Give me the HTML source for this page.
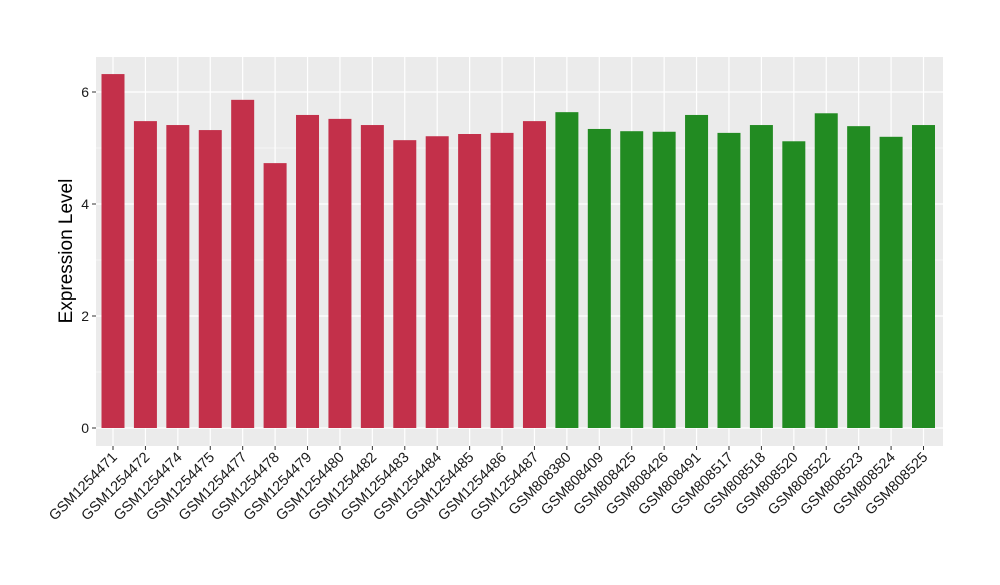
<!DOCTYPE html>
<html><head><meta charset="utf-8"><style>
body{margin:0;background:#fff;}
svg text{font-family:"Liberation Sans",Arial,sans-serif;}
</style></head><body>
<svg width="1000" height="580" xmlns="http://www.w3.org/2000/svg">
<rect x="96" y="57" width="847" height="389" fill="#ebebeb"/>
<g id="grid"></g><g id="bars"></g><g id="xaxis"></g><g id="yaxis"></g>
<text x="72" y="251" font-size="19" text-anchor="middle" transform="rotate(-90 72 251)">Expression Level</text>
</svg>
<script>
const categories=["GSM1254471","GSM1254472","GSM1254474","GSM1254475","GSM1254477","GSM1254478","GSM1254479","GSM1254480","GSM1254482","GSM1254483","GSM1254484","GSM1254485","GSM1254486","GSM1254487","GSM808380","GSM808409","GSM808425","GSM808426","GSM808491","GSM808517","GSM808518","GSM808520","GSM808522","GSM808523","GSM808524","GSM808525"];
const values=[6.32,5.48,5.41,5.32,5.86,4.73,5.59,5.52,5.41,5.14,5.21,5.25,5.27,5.48,5.64,5.34,5.30,5.29,5.59,5.27,5.41,5.12,5.62,5.39,5.20,5.41];
const groups=["a","a","a","a","a","a","a","a","a","a","a","a","a","a","b","b","b","b","b","b","b","b","b","b","b","b"];
const yTicks=[0,2,4,6];
const ns="http://www.w3.org/2000/svg";
const L=96,W=847,T=57,H=389,y0=428,ppu=56;
const step=32.42;
const x=i=>113+step*i;
const y=v=>y0-v*ppu;
function mk(t,a,p){const e=document.createElementNS(ns,t);for(const k in a)e.setAttribute(k,a[k]);p.appendChild(e);return e;}
const g=document.getElementById('grid');
for(let v=1;v<=6;v+=2){const l=mk('line',{x1:L,x2:L+W,y1:y(v),y2:y(v),stroke:'#fff','stroke-width':0.6},g);

}
yTicks.forEach(v=>{const l=mk('line',{x1:L,x2:L+W,y1:y(v),y2:y(v),stroke:'#fff','stroke-width':1.2},g);

});
categories.forEach((c,i)=>{const l=mk('line',{x1:x(i),x2:x(i),y1:T,y2:T+H,stroke:'#fff','stroke-width':1.2},g);

});
const b=document.getElementById('bars');
const bw=23;
categories.forEach((c,i)=>{const r=mk('rect',{x:x(i)-bw/2,y:y(values[i]),width:bw,height:y(0)-y(values[i]),fill:groups[i]==="a"?'#c3304a':'#228b22'},b);

});
const xa=document.getElementById('xaxis');
categories.forEach((c,i)=>{mk('line',{x1:x(i),x2:x(i),y1:T+H,y2:T+H+4,stroke:'#333'},xa);
const t=mk('text',{x:x(i)+5,y:T+H+12,'font-size':14.5,fill:'#1a1a1a','text-anchor':'end',transform:`rotate(-45 ${x(i)+5} ${T+H+12})`},xa);
t.textContent=c;

});
const ya=document.getElementById('yaxis');
yTicks.forEach(v=>{mk('line',{x1:L-4,x2:L,y1:y(v),y2:y(v),stroke:'#333'},ya);
const t=mk('text',{x:L-7,y:y(v)+5,'font-size':14,fill:'#1a1a1a','text-anchor':'end'},ya);
t.textContent=v;

});
</script>
</body></html>
